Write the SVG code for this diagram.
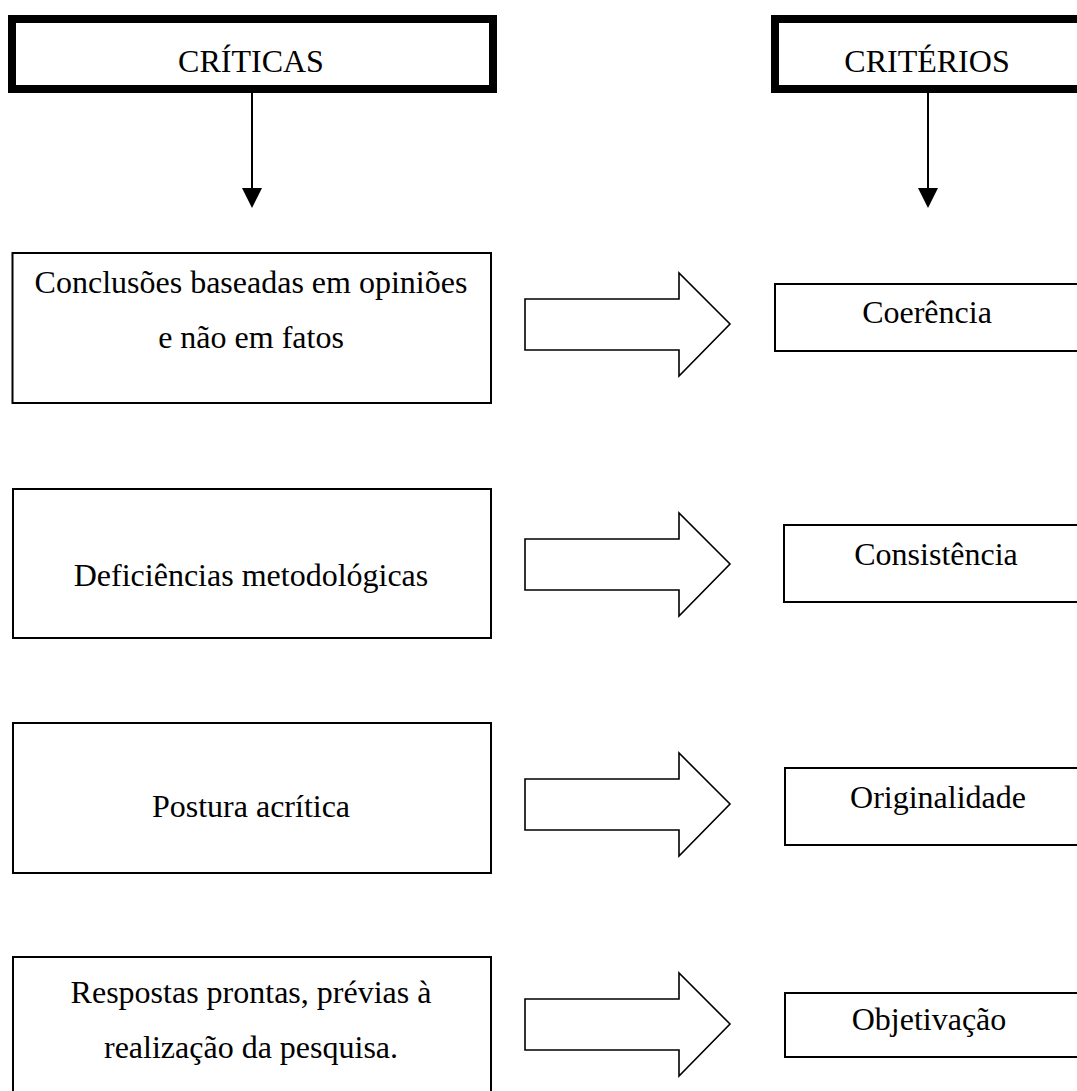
<svg xmlns="http://www.w3.org/2000/svg" width="1077" height="1091" viewBox="0 0 1077 1091">
<defs>
<style>
text{font-family:"Liberation Serif","Times New Roman",serif;font-size:32px;fill:#000;text-anchor:middle}
.head{fill:#fff;stroke:#000;stroke-width:8}
.box{fill:#fff;stroke:#000;stroke-width:2}
.big{fill:#fff;stroke:#000;stroke-width:1.6;stroke-linejoin:miter}
.line{stroke:#000;stroke-width:2;fill:none}
</style>
</defs>
<rect width="1077" height="1091" fill="#fff"/>
<g id="connectors">
<line class="line" x1="252" y1="93" x2="252" y2="189"/>
<polygon points="242,188 262,188 252,208" fill="#000"/>
<line class="line" x1="928" y1="93" x2="928" y2="189"/>
<polygon points="918,188 938,188 928,208" fill="#000"/>
<polygon class="big" points="525,299 679,299 679,273 730,324 679,376 679,350 525,350"/>
<polygon class="big" points="525,539 679,539 679,513 730,564 679,616 679,590 525,590"/>
<polygon class="big" points="525,779 679,779 679,753 730,804 679,856 679,830 525,830"/>
<polygon class="big" points="525,999 679,999 679,973 730,1024 679,1076 679,1050 525,1050"/>
</g>
<g id="criticas">
<rect class="head" x="12" y="19" width="481" height="70"/>
<text x="251" y="72">CRÍTICAS</text>
</g>
<g id="criterios">
<rect class="head" x="775" y="19" width="320" height="70"/>
<text x="927" y="72">CRITÉRIOS</text>
</g>
<g id="conclusoes">
<rect class="box" x="12.5" y="253" width="478.5" height="150"/>
<text x="251" y="293">Conclusões baseadas em opiniões</text>
<text x="251" y="348">e não em fatos</text>
</g>
<g id="deficiencias">
<rect class="box" x="13" y="489" width="478" height="149"/>
<text x="251" y="586">Deficiências metodológicas</text>
</g>
<g id="postura">
<rect class="box" x="13" y="723" width="478" height="150"/>
<text x="251" y="817">Postura acrítica</text>
</g>
<g id="respostas">
<rect class="box" x="13" y="957" width="478" height="150"/>
<text x="251" y="1003">Respostas prontas, prévias à</text>
<text x="251" y="1058">realização da pesquisa.</text>
</g>
<g id="coerencia">
<rect class="box" x="775" y="284" width="320" height="67"/>
<text x="927" y="323">Coerência</text>
</g>
<g id="consistencia">
<rect class="box" x="784" y="525" width="310" height="77"/>
<text x="936" y="565">Consistência</text>
</g>
<g id="originalidade">
<rect class="box" x="785" y="768" width="310" height="77"/>
<text x="938" y="808">Originalidade</text>
</g>
<g id="objetivacao">
<rect class="box" x="785" y="993" width="310" height="64"/>
<text x="929" y="1030">Objetivação</text>
</g>
</svg>
